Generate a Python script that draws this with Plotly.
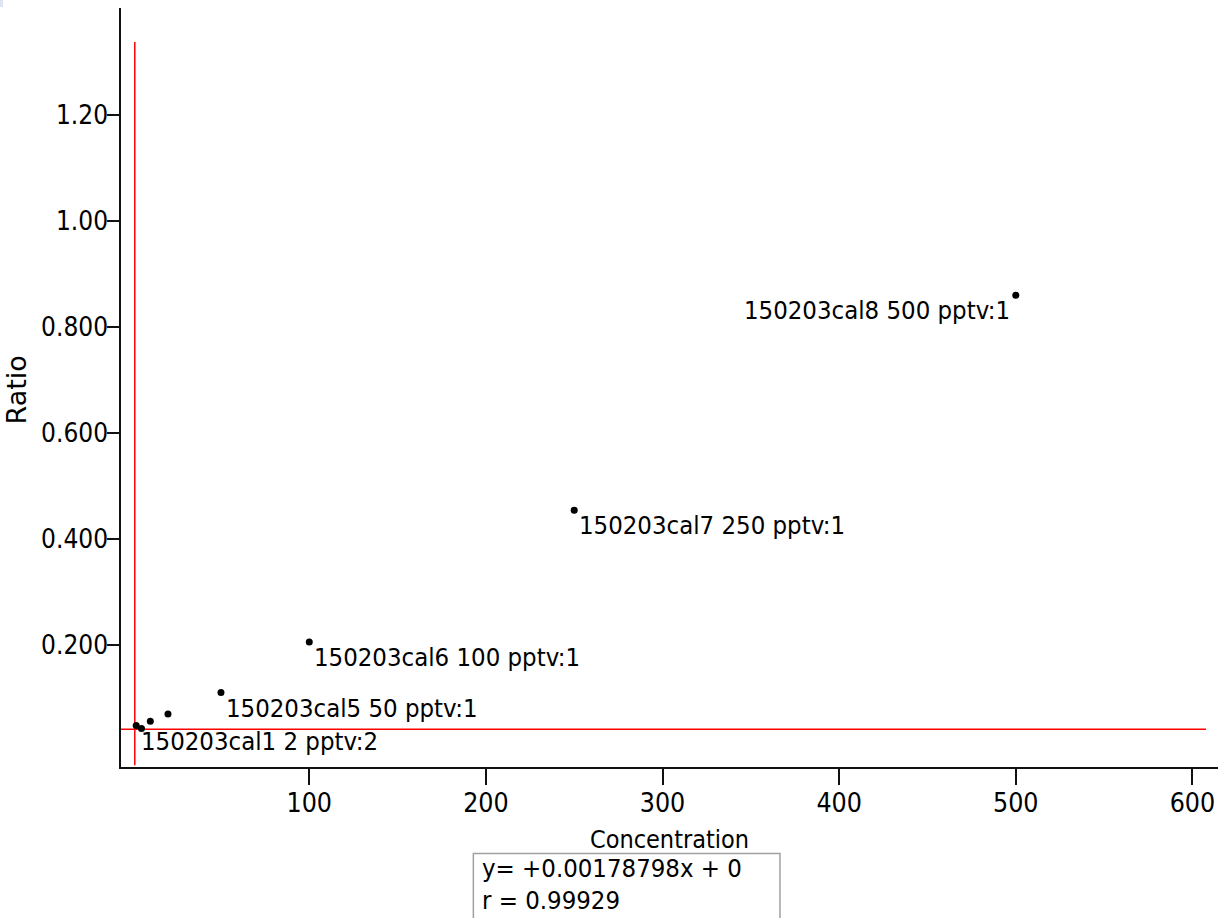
import plotly.graph_objects as go

# ---- data ----
concentration = [2, 5, 10, 20, 50, 100, 250, 500]
ratio = [0.0485, 0.0428, 0.0566, 0.0704, 0.1108, 0.2062, 0.4547, 0.8604]

label_index = [0, 4, 5, 6, 7]
label_text = ["150203cal1 2 pptv:2", "150203cal5 50 pptv:1", "150203cal6 100 pptv:1",
              "150203cal7 250 pptv:1", "150203cal8 500 pptv:1"]
label_side = ["right", "right", "right", "right", "left"]

x_tick_vals = [100, 200, 300, 400, 500, 600]
x_tick_text = ["100", "200", "300", "400", "500", "600"]
y_tick_vals = [0.2, 0.4, 0.6, 0.8, 1.0, 1.2]
y_tick_text = ["0.200", "0.400", "0.600", "0.800", "1.00", "1.20"]

ref_x = 1.2          # red vertical reference line
ref_y = 0.0415       # red horizontal reference line
ref_v_span = [-0.0264, 1.338]
ref_h_span = [-6.6, 607.7]

equation_lines = ["y= +0.00178798x + 0", "r = 0.99929"]

x_range = [-6.6, 614.5]
y_range = [-0.0296, 1.402]

FONT = "DejaVu Sans Condensed, Liberation Sans Narrow, DejaVu Sans, sans-serif"

fig = go.Figure()

fig.add_trace(go.Scatter(
    x=ref_h_span, y=[ref_y, ref_y], mode="lines",
    line=dict(color="#ff0000", width=1.5), hoverinfo="skip", showlegend=False))
fig.add_trace(go.Scatter(
    x=[ref_x, ref_x], y=ref_v_span, mode="lines",
    line=dict(color="#ff0000", width=1.5), hoverinfo="skip", showlegend=False))

fig.add_trace(go.Scatter(
    x=concentration, y=ratio, mode="markers",
    marker=dict(color="black", size=7), showlegend=False))

for i, txt, side in zip(label_index, label_text, label_side):
    fig.add_annotation(
        x=concentration[i], y=ratio[i], xref="x", yref="y",
        text=txt, showarrow=False,
        xanchor="left" if side == "right" else "right", yanchor="top",
        xshift=3 if side == "right" else -4, yshift=2,
        font=dict(family=FONT, size=25.5, color="black"))

# equation box (paper coords, plot area height = 918 - 151 - 8 = 759 px)
fig.add_shape(type="rect", xref="paper", yref="paper",
              x0=0.3212, x1=0.6007, y0=-0.30, y1=-0.1141,
              line=dict(color="#a0a0a0", width=1.5), fillcolor="rgba(0,0,0,0)")
for k, line in enumerate(equation_lines):
    fig.add_annotation(
        xref="paper", yref="paper", x=0.3272, y=-0.1336 - k * 0.0422,
        text=line, showarrow=False, xanchor="left", yanchor="middle",
        font=dict(family=FONT, size=25.5, color="black"))

# y-axis title placed as a rotated annotation
fig.add_annotation(
    xref="paper", yref="paper", x=-0.0948, y=0.496, text="Ratio", textangle=-90,
    showarrow=False, xanchor="center", yanchor="middle",
    font=dict(family="DejaVu Sans, sans-serif", size=27, color="black"))

# tiny light-blue corner mark seen in the reference
fig.add_shape(type="rect", xref="paper", yref="paper",
              x0=-0.1103, x1=-0.1076, y0=1.0013, y1=1.0105,
              line=dict(width=0), fillcolor="#dce4f5")

fig.update_layout(
    width=1218, height=918,
    margin=dict(l=121, r=0, t=8, b=151, autoexpand=False),
    paper_bgcolor="white", plot_bgcolor="white",
    font=dict(family=FONT, size=26.5, color="black"),
    xaxis=dict(range=x_range, tickvals=x_tick_vals, ticktext=x_tick_text,
               automargin=False,
               showgrid=False, zeroline=False, showline=True, linecolor="#111",
               linewidth=1.5, ticks="outside", ticklen=16, tickwidth=1.5, tickcolor="#111",
               ticklabelstandoff=-5, tickfont=dict(family=FONT, size=26.5),
               title=dict(text="Concentration", standoff=14,
                          font=dict(family=FONT, size=25))),
    yaxis=dict(range=y_range, tickvals=y_tick_vals, ticktext=y_tick_text,
               automargin=False,
               showgrid=False, zeroline=False, showline=True, linecolor="#111",
               linewidth=1.5, ticks="outside", ticklen=12, tickwidth=1.5, tickcolor="#111",
               ticklabelstandoff=-6, tickfont=dict(family=FONT, size=26)),
)

fig.write_html(
    "out.html",
    config={"displayModeBar": False},
    post_script="document.body.style.margin='0';document.body.style.overflow='hidden';",
)
